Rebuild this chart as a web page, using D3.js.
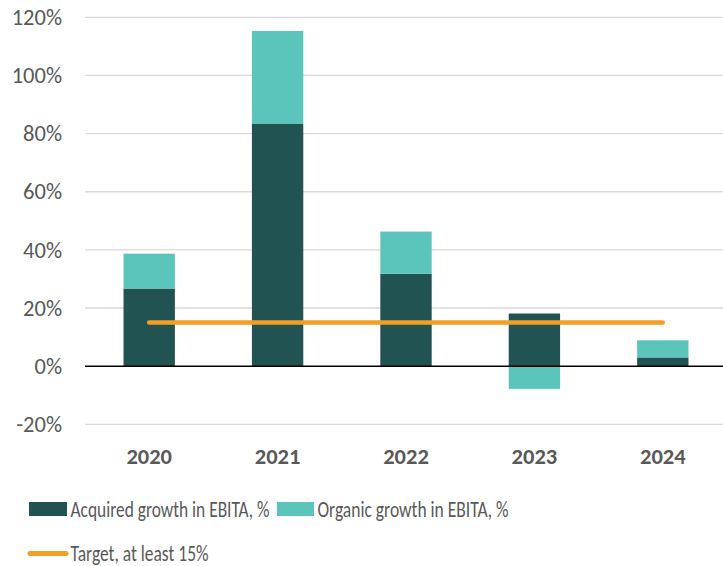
<!DOCTYPE html>
<html><head><meta charset="utf-8">
<script src="https://cdn.jsdelivr.net/npm/d3@7"></script>
<style>body{margin:0;background:#fff}svg{display:block}text{font-family:"Carlito","Lato",sans-serif;fill:#595959}</style>
</head><body><svg id="c" width="723" height="566"></svg>
<script>
const years = ["2020","2021","2022","2023","2024"];
const acquired = [26.7, 83.3, 31.8, 18.1, 3.0];
const organic = [12.0, 32.0, 14.5, -7.8, 5.9];
const target = [15, 15, 15, 15, 15];
const yTicks = [-20, 0, 20, 40, 60, 80, 100, 120];
const seriesNames = ["Acquired growth in EBITA, %", "Organic growth in EBITA, %", "Target, at least 15%"];
const colors = ["#215352", "#5cc5bb", "#f29f26"];

const svg = d3.select("#c");
const x = d3.scaleBand().domain(years).range([85, 727]).paddingInner(0.6).paddingOuter(0.3);
const y = d3.scaleLinear().domain([-20, 120]).range([424.3, 17.3]);

// gridlines
svg.append("g").selectAll("line").data(yTicks.filter(d => d !== 0)).join("line")
  .attr("x1", 85).attr("x2", 723).attr("y1", d => y(d)).attr("y2", d => y(d))
  .attr("stroke", "#d9d9d9").attr("stroke-width", 1.3);

// y axis labels
const yAxis = d3.axisLeft(y).tickValues(yTicks).tickFormat(d => d + "%").tickSize(0).tickPadding(0);
const ya = svg.append("g").attr("transform", "translate(62,0)").call(yAxis);
ya.select(".domain").remove();
ya.selectAll("text").attr("font-size", 22.5).attr("fill", "#595959").attr("font-family", null);

// stacked bars
const bw = x.bandwidth();
const g = svg.append("g");
years.forEach((yr, i) => {
  const a = acquired[i], o = organic[i];
  g.append("rect").attr("x", x(yr)).attr("width", bw)
    .attr("y", y(a)).attr("height", y(0) - y(a)).attr("fill", colors[0]);
  if (o >= 0) {
    g.append("rect").attr("x", x(yr)).attr("width", bw)
      .attr("y", y(a + o)).attr("height", y(a) - y(a + o)).attr("fill", colors[1]);
  } else {
    g.append("rect").attr("x", x(yr)).attr("width", bw)
      .attr("y", y(0)).attr("height", y(o) - y(0)).attr("fill", colors[1]);
  }
});

// zero line
svg.append("line").attr("x1", 85).attr("x2", 723).attr("y1", y(0)).attr("y2", y(0))
  .attr("stroke", "#000").attr("stroke-width", 1.5);

// target line
const line = d3.line().x((d, i) => x(years[i]) + bw / 2).y(d => y(d));
svg.append("path").datum(target).attr("d", line).attr("fill", "none")
  .attr("stroke", colors[2]).attr("stroke-width", 4.5).attr("stroke-linecap", "round");

// x axis labels
const xAxis = d3.axisBottom(x).tickSize(0).tickPadding(0);
const xa = svg.append("g").attr("transform", "translate(0,447)").call(xAxis);
xa.select(".domain").remove();
xa.selectAll("text").attr("font-size", 22.5).attr("font-weight", "bold").attr("fill", "#595959")
  .attr("font-family", null).attr("dy", "0.75em");

// legend
const leg = svg.append("g");
leg.append("rect").attr("x", 29).attr("y", 502).attr("width", 38).attr("height", 14).attr("fill", colors[0]);
leg.append("text").attr("x", 70.5).attr("y", 516.5).attr("font-size", 22)
  .attr("textLength", 199).attr("lengthAdjust", "spacingAndGlyphs").text(seriesNames[0]);
leg.append("rect").attr("x", 277).attr("y", 502).attr("width", 37).attr("height", 14).attr("fill", colors[1]);
leg.append("text").attr("x", 317.5).attr("y", 516.5).attr("font-size", 22)
  .attr("textLength", 191).attr("lengthAdjust", "spacingAndGlyphs").text(seriesNames[1]);
leg.append("line").attr("x1", 30).attr("x2", 66).attr("y1", 553.5).attr("y2", 553.5)
  .attr("stroke", colors[2]).attr("stroke-width", 5).attr("stroke-linecap", "round");
leg.append("text").attr("x", 70.5).attr("y", 560.5).attr("font-size", 22)
  .attr("textLength", 138).attr("lengthAdjust", "spacingAndGlyphs").text(seriesNames[2]);
</script></body></html>
